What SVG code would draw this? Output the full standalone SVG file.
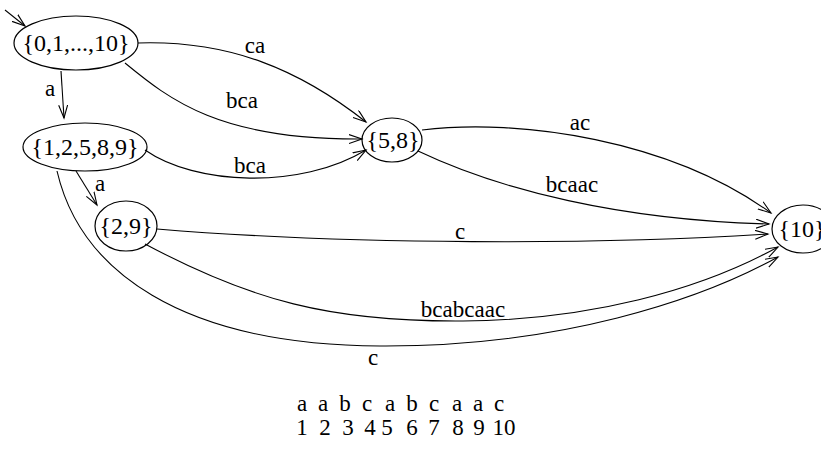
<svg xmlns="http://www.w3.org/2000/svg" width="821" height="458" viewBox="0 0 821 458">
<style>
.n{fill:none;stroke:#000;stroke-width:1.2}
.e{fill:none;stroke:#000;stroke-width:1.1;marker-end:url(#ah)}
text{font-family:"Liberation Serif","Times New Roman",serif;font-size:23px;fill:#000;text-anchor:middle}
.nl{font-size:24px}
</style>
<defs>
<marker id="ah" markerUnits="userSpaceOnUse" markerWidth="16" markerHeight="12" refX="13" refY="5" orient="auto">
<path d="M0,0.5 L13,5 L0,9.5" fill="none" stroke="#000" stroke-width="1.1"/>
</marker>
</defs>
<rect width="821" height="458" fill="#fff"/>
<g id="connectors">
<path class="e" d="M5,10 L25,26"/>
<path class="e" d="M61,71 L64,118"/>
<path class="e" d="M138,43 C230,40 300,70 366,122"/>
<path class="e" d="M125,63 C170,100 220,140 362,139"/>
<path class="e" d="M145,150 C195,185 300,190 366,150"/>
<path class="e" d="M76,171 L97,205"/>
<path class="e" d="M57,171 C80,270 180,345 380,346 C560,347 700,300 778,257"/>
<path class="e" d="M157,229 C350,245 600,245 768,234"/>
<path class="e" d="M145,244 C250,300 330,322 463,321 C590,320 700,290 778,247"/>
<path class="e" d="M422,130 C520,118 670,140 771,213"/>
<path class="e" d="M418,151 C500,190 620,220 769,224"/>
<text x="50" y="96">a</text>
<text x="255" y="53">ca</text>
<text x="242" y="108">bca</text>
<text x="250" y="173">bca</text>
<text x="100" y="191">a</text>
<text x="373" y="365">c</text>
<text x="460" y="239">c</text>
<text x="463" y="317">bcabcaac</text>
<text x="580" y="130">ac</text>
<text x="572" y="192">bcaac</text>
</g>
<g id="nA"><ellipse class="n" cx="76" cy="43" rx="62" ry="27"/><text class="nl" x="76" y="51">{0,1,...,10}</text></g>
<g id="nB"><ellipse class="n" cx="85" cy="147" rx="62" ry="24"/><text class="nl" x="85" y="155">{1,2,5,8,9}</text></g>
<g id="nC"><ellipse class="n" cx="126" cy="226" rx="31" ry="25"/><text class="nl" x="126" y="234">{2,9}</text></g>
<g id="nD"><ellipse class="n" cx="392" cy="140" rx="30" ry="22"/><text class="nl" x="393" y="148">{5,8}</text></g>
<g id="nE"><ellipse class="n" cx="803" cy="229" rx="31" ry="24"/><text class="nl" x="802" y="237">{10}</text></g>
<g id="sequence">
<text x="302" y="411">a</text><text x="323" y="411">a</text><text x="345" y="411">b</text><text x="367" y="411">c</text><text x="390" y="411">a</text><text x="412" y="411">b</text><text x="434" y="411">c</text><text x="457" y="411">a</text><text x="478" y="411">a</text><text x="499" y="411">c</text>
<text x="302" y="435">1</text><text x="325" y="435">2</text><text x="348" y="435">3</text><text x="370" y="435">4</text><text x="387" y="435">5</text><text x="412" y="435">6</text><text x="434" y="435">7</text><text x="458" y="435">8</text><text x="479" y="435">9</text><text x="504" y="435">10</text>
</g>
</svg>
